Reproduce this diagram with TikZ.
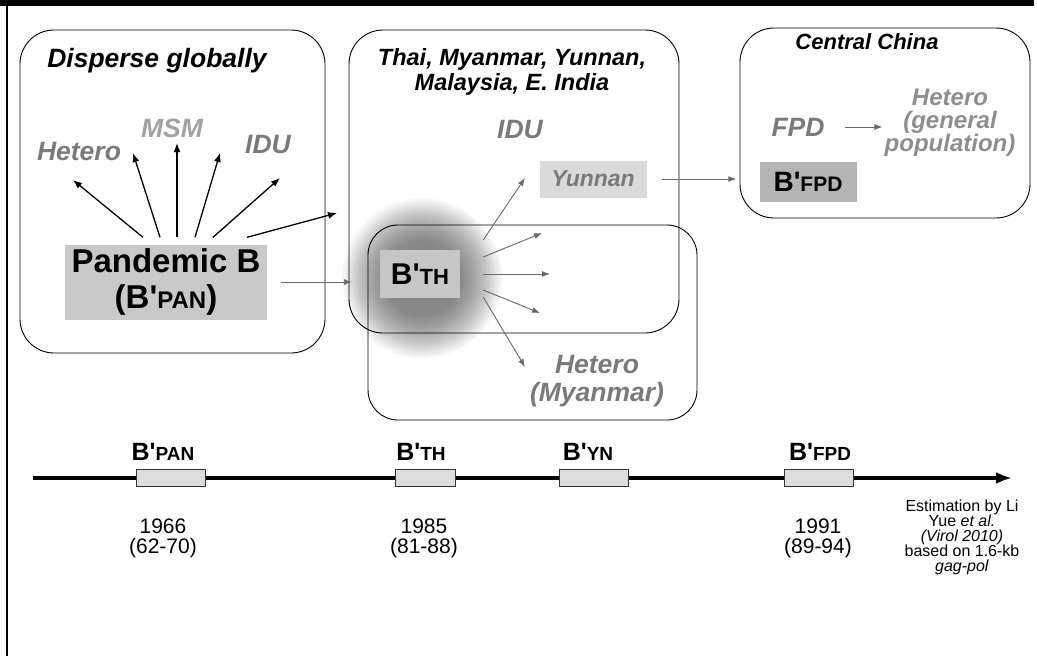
\documentclass[tikz,border=0pt]{standalone}
\usepackage{fontspec}
\setmainfont{Liberation Sans}[Ligatures=TeXOff]
\usetikzlibrary{arrows.meta,calc}
\definecolor{labelgray}{HTML}{7A7A7A}
\definecolor{lightlabel}{HTML}{A2A2A2}
\definecolor{arrowgray}{HTML}{6A6A6A}
\definecolor{panfill}{HTML}{C9C9C9}
\definecolor{yunfill}{HTML}{DADADA}
\definecolor{fpdfill}{HTML}{B4B4B4}
\definecolor{thfill}{HTML}{C6C6C6}
\definecolor{tickfill}{HTML}{DCDCDC}
\newcommand\fsz[2]{{\fontsize{#1}{#1}\selectfont #2}}
% soft halo: the path's bounding box maps onto the central 50bp square
\pgfdeclareradialshading{thglow}{\pgfpoint{0bp}{0bp}}{%
  color(0bp)=(black!50); color(12bp)=(black!46); color(16bp)=(black!36);
  color(20bp)=(black!23); color(23bp)=(black!10); color(25.5bp)=(white);
  color(50bp)=(white)}
\begin{document}
\begin{tikzpicture}[x=1pt,y=-1pt,
  region/.style={draw=black, line width=0.9pt, rounded corners=34pt},
  grouplbl/.style={inner sep=0pt, align=center, text=labelgray,
    font=\fontsize{26.5}{28}\selectfont\bfseries\itshape},
  regiontitle/.style={inner sep=0pt, align=center, text=black,
    font=\fontsize{24}{25}\selectfont\bfseries\itshape},
  strain/.style={inner sep=0pt, align=center, text=black,
    font=\fontsize{33}{36}\selectfont\bfseries},
  barrow/.style={draw=black, line width=1.3pt, -{Latex[length=9pt,width=7pt]}},
  garrow/.style={draw=arrowgray, line width=0.9pt, -{Latex[length=8pt,width=6pt]}},
  tick/.style={draw=black!80, fill=tickfill, line width=0.8pt,
    minimum width=69pt, minimum height=17pt, inner sep=0pt},
  ticklbl/.style={inner sep=0pt, font=\fontsize{25}{25}\selectfont\bfseries},
  yearlbl/.style={inner sep=0pt, align=center, font=\fontsize{21}{20}\selectfont},
  note/.style={inner sep=0pt, align=center, font=\fontsize{16}{15}\selectfont}
]
\useasboundingbox (0,0) rectangle (1037,656);

% page frame: heavy rule on top, thin rule down the left side
\draw[line width=6pt] (0,3) -- (1034,3);
\draw[line width=2.5pt] (7,0) -- (7,656);

% soft halo behind B'TH
\shade[shading=thglow] (422,278) circle (80);

% regions
\draw[region] (20,30) rectangle (325,353);
\draw[region] (349,30) rectangle (679,333);
\draw[region, rounded corners=30pt] (368,225) rectangle (697,420);
\draw[region] (740,28) rectangle (1030,218);

% --- Disperse globally ---
\node[regiontitle, font=\fontsize{26.5}{27}\selectfont\bfseries\itshape] (dg) at (157,61) {Disperse globally};
\node[grouplbl] (het1) at (79,152) {Hetero};
\node[grouplbl, text=lightlabel] (msm) at (172,128) {MSM};
\node[grouplbl] (idu1) at (268,145) {IDU};
\node[strain, fill=panfill, minimum width=202pt, minimum height=75pt] (pan) at (166,282)
  {Pandemic B\\(B'\fsz{24}{PAN})};

\coordinate (p1) at ($(pan.north)+(-23,-7)$);
\coordinate (p2) at ($(pan.north)+(-6,-7)$);
\coordinate (p3) at ($(pan.north)+(11,-7)$);
\coordinate (p4) at ($(pan.north)+(29,-7)$);
\coordinate (p5) at ($(pan.north)+(47,-7)$);
\coordinate (p6) at ($(pan.north)+(81,-7)$);
\coordinate (e1) at (73,180);
\coordinate (e2) at (133,153);
\coordinate (e3) at (177,143);
\coordinate (e4) at (220,153);
\coordinate (e5) at (280,178);
\coordinate (e6) at (337,213);
\draw[barrow] (p1) -- (e1);
\draw[barrow] (p2) -- (e2);
\draw[barrow] (p3) -- (e3);
\draw[barrow] (p4) -- (e4);
\draw[barrow] (p5) -- (e5);
\draw[barrow] (p6) -- (e6);

% --- Thai, Myanmar, Yunnan ... ---
\node[regiontitle, font=\fontsize{23.5}{25}\selectfont\bfseries\itshape] (thai) at (512,72)
  {Thai, Myanmar, Yunnan,\\Malaysia, E. India};
\node[grouplbl] (idu2) at (520,130) {IDU};
\node[grouplbl, fill=yunfill, minimum width=107pt, minimum height=37pt,
      font=\fontsize{23}{25}\selectfont\bfseries\itshape] (yun) at (593,179) {Yunnan};
\node[grouplbl] (hetmy) at (597,381) {Hetero\\(Myanmar)};
\node[inner sep=0pt, fill=thfill, minimum width=80pt, minimum height=48pt,
      font=\fontsize{30}{30}\selectfont\bfseries] (th) at (420,274) {B'\fsz{22}{TH}};

\draw[garrow, shorten <=14pt, shorten >=28pt] (pan.east) -- (pan.east -| th.west);

\coordinate (s1) at ($(th.east)+(23,-34)$);
\coordinate (s2) at ($(th.east)+(23,-17)$);
\coordinate (s3) at ($(th.east)+(23,0)$);
\coordinate (s4) at ($(th.east)+(23,16)$);
\coordinate (s5) at ($(th.east)+(23,23)$);
\coordinate (f1) at (525,178);
\coordinate (f2) at (542,233);
\coordinate (f3) at (550,274);
\coordinate (f4) at (540,313);
\coordinate (f5) at (525,367);
\draw[garrow] (s1) -- (f1);
\draw[garrow] (s2) -- (f2);
\draw[garrow] (s3) -- (f3);
\draw[garrow] (s4) -- (f4);
\draw[garrow] (s5) -- (f5);

% --- Central China ---
\node[regiontitle, font=\fontsize{22}{24}\selectfont\bfseries\itshape] (cc) at (867,42) {Central China};
\node[grouplbl] (fpd) at (798,127) {FPD};
\node[grouplbl, text=labelgray!85, font=\fontsize{24}{23}\selectfont\bfseries\itshape] (hetgp) at (950,123)
  {Hetero\\(general\\population)};
\node[inner sep=0pt, fill=fpdfill, minimum width=97pt, minimum height=40pt,
      font=\fontsize{28}{28}\selectfont\bfseries] (bfpd) at (808,182) {B'\fsz{21}{FPD}};

\draw[garrow, shorten <=20pt, shorten >=2pt] (fpd.east) -- (fpd.east -| hetgp.west);
\draw[garrow, shorten <=15pt, shorten >=23pt] (yun.east) -- (yun.east -| bfpd.west);

% --- timeline ---
\coordinate (tl0) at (33,478);
\coordinate (tl1) at (1012,478);
\draw[line width=3.5pt, -{Latex[length=16pt,width=12pt]}] (tl0) -- (tl1);

\node[tick] (kpan) at (170.5,478) {};
\node[tick, minimum width=60pt] (kth) at (425,478) {};
\node[tick] (kyn) at (593.5,478) {};
\node[tick] (kfpd) at (818.5,478) {};

\node[ticklbl] (lpan) at (163,452) {B'\fsz{19}{PAN}};
\node[ticklbl] (lth) at (421,452) {B'\fsz{19}{TH}};
\node[ticklbl] (lyn) at (588,452) {B'\fsz{19}{YN}};
\node[ticklbl] (lfpd) at (820,452) {B'\fsz{19}{FPD}};

\node[yearlbl] (ypan) at (163,538) {1966\\(62-70)};
\node[yearlbl] (yth) at (424,538) {1985\\(81-88)};
\node[yearlbl] (yfpd) at (818,538) {1991\\(89-94)};

\node[note] (est) at (962,537)
  {Estimation by Li\\Yue \textit{et al.}\\\textit{(Virol 2010)}\\based on 1.6-kb\\\textit{gag-pol}};
\end{tikzpicture}
\end{document}
